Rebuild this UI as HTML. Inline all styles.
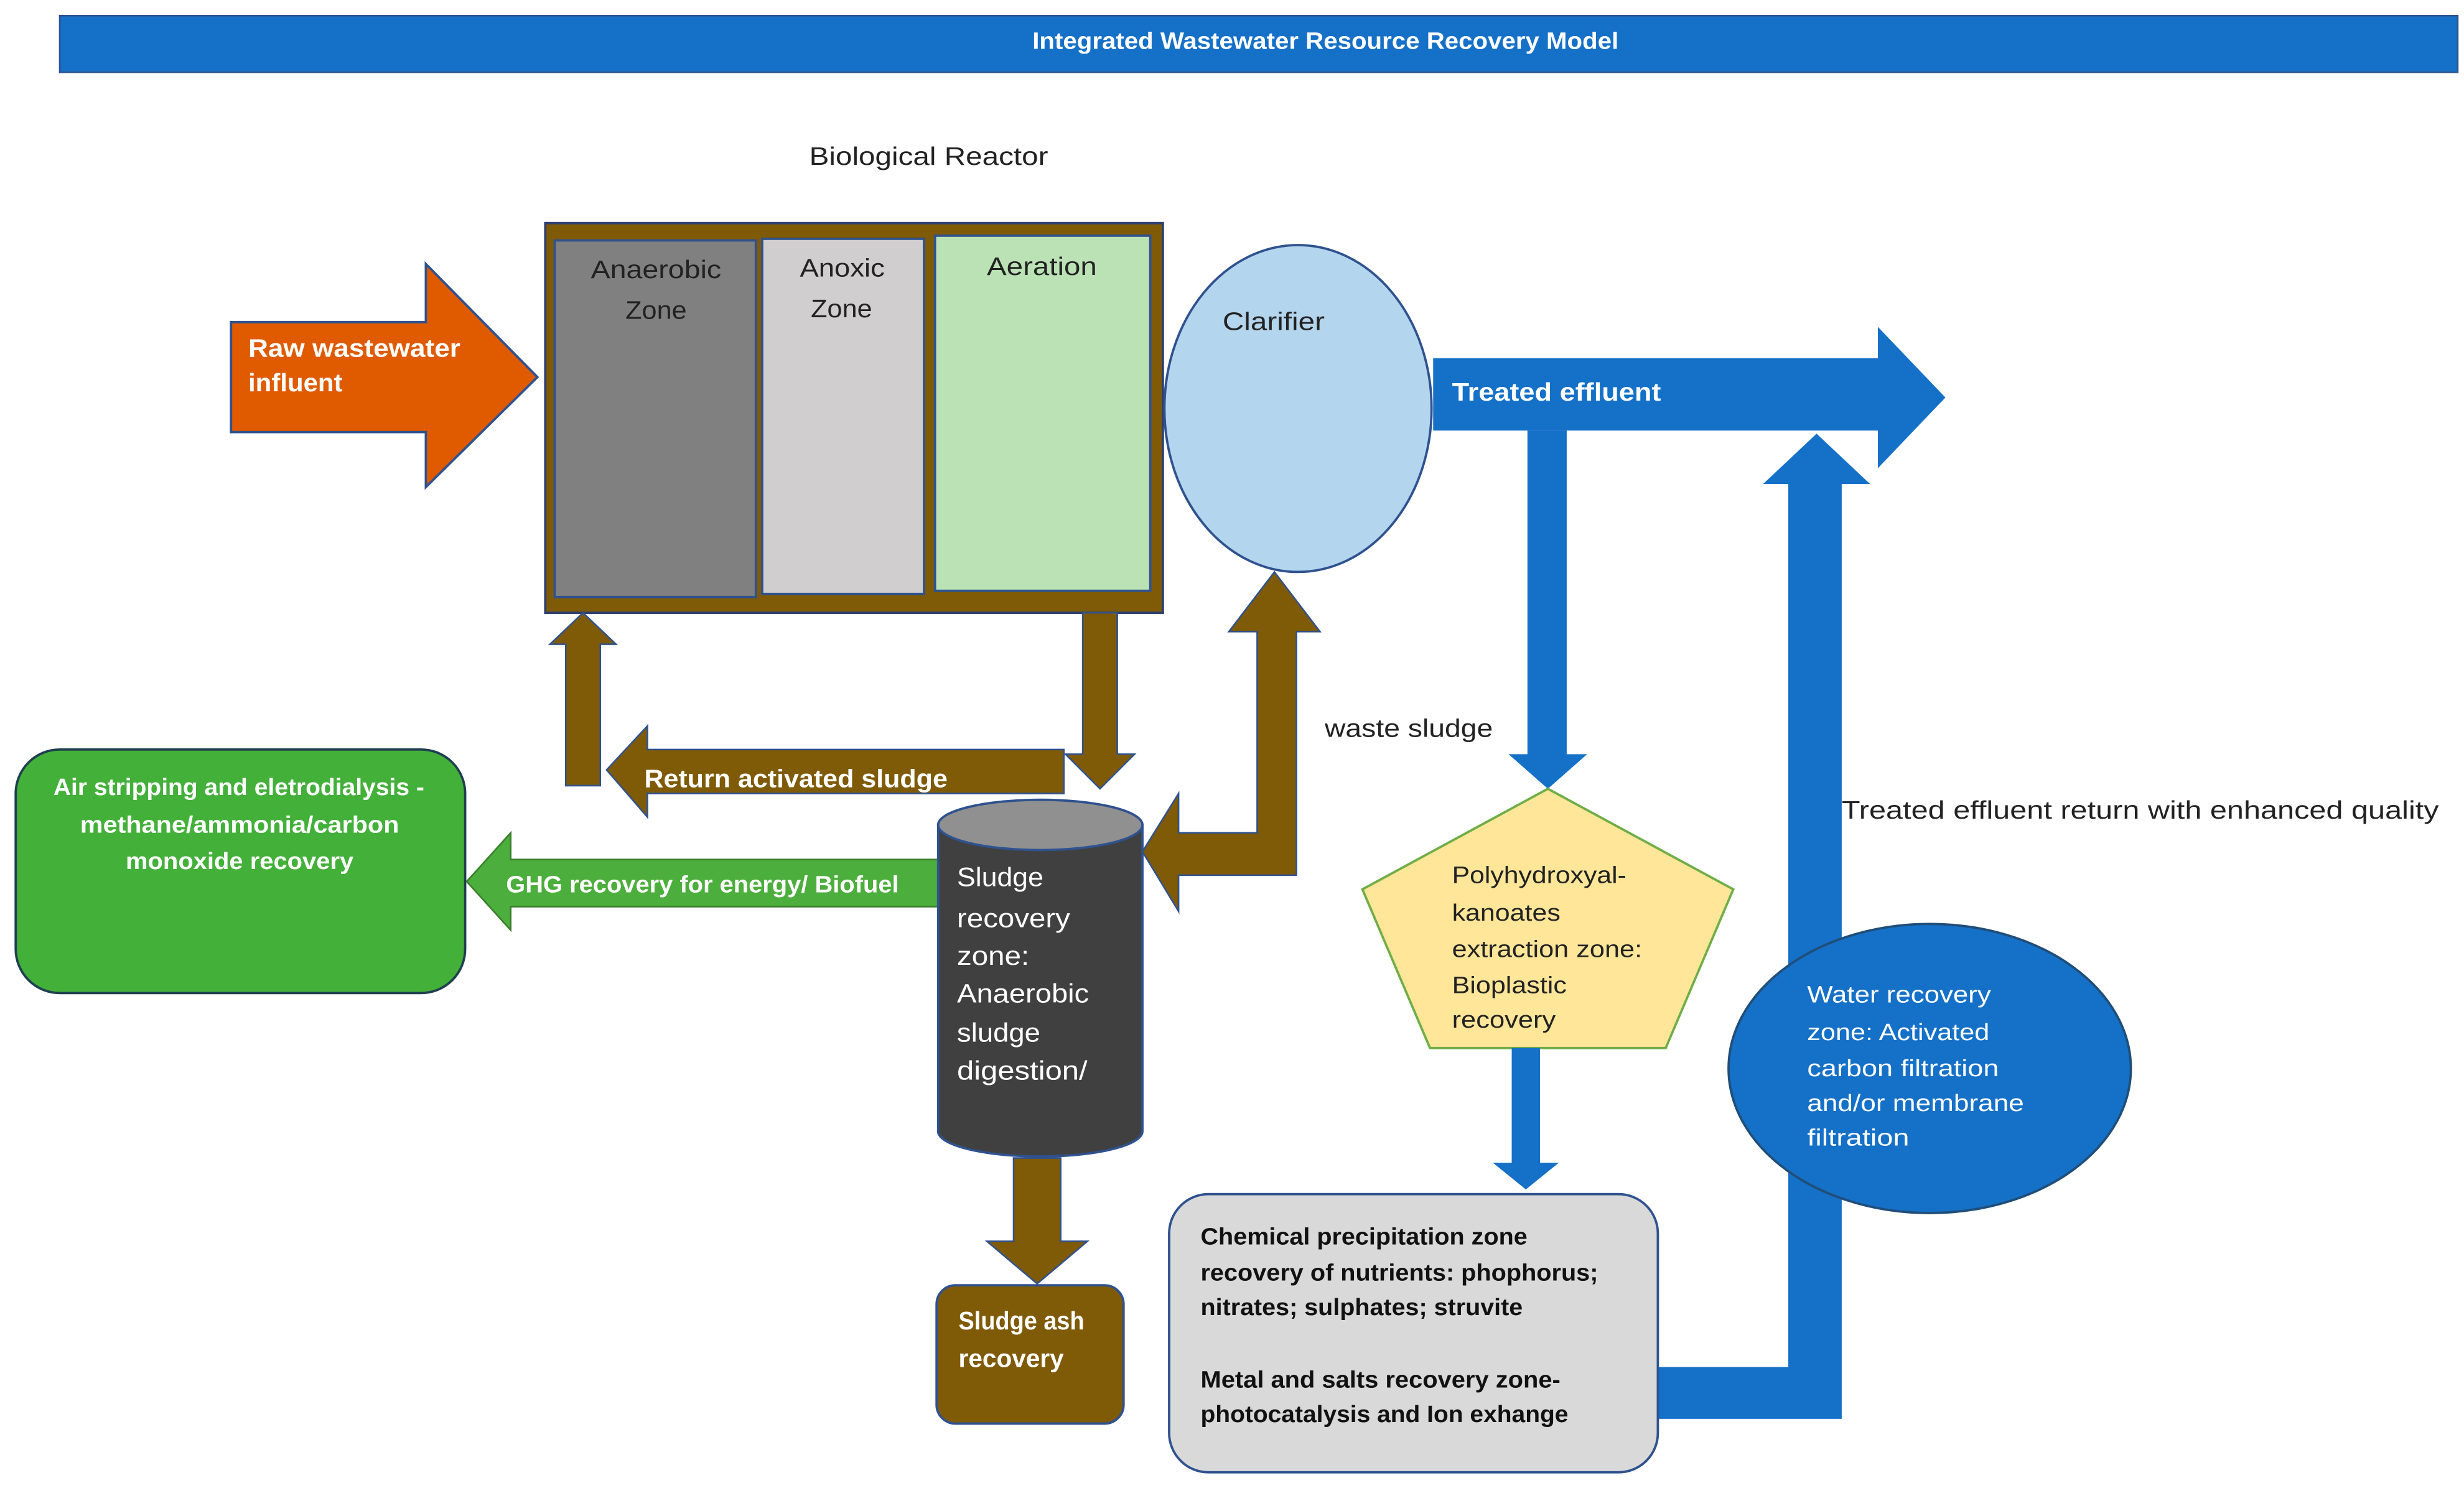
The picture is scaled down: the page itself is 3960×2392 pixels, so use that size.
<!DOCTYPE html>
<html><head><meta charset="utf-8">
<style>
html,body{margin:0;padding:0;background:#fff;}
svg{display:block;}
text{font-family:"Liberation Sans",sans-serif;}
</style></head>
<body>
<svg width="3960" height="2392" viewBox="0 0 1568 947" preserveAspectRatio="none" xmlns="http://www.w3.org/2000/svg">
<rect x="0" y="0" width="1568" height="947" fill="#fff"/>
<rect x="38" y="10" width="1526" height="36" fill="#1570c8" stroke="#2f528f" stroke-width="1"/>
<text x="657" y="31" font-size="15" font-weight="bold" fill="#fff" textLength="373" lengthAdjust="spacingAndGlyphs">Integrated Wastewater Resource Recovery Model</text>
<text x="515" y="105" font-size="16" fill="#222" textLength="152" lengthAdjust="spacingAndGlyphs">Biological Reactor</text>

<rect x="347" y="142" width="393" height="248" fill="#7f5a07" stroke="#2f3f6f" stroke-width="1.5"/>
<rect x="353" y="153" width="128" height="227" fill="#808080" stroke="#2f528f" stroke-width="1.5"/>
<rect x="485" y="152" width="103" height="226" fill="#d0cece" stroke="#2f528f" stroke-width="1.5"/>
<rect x="595" y="150" width="137" height="226" fill="#bbe2b5" stroke="#2f528f" stroke-width="1.5"/>
<g font-size="16" fill="#222">
<text x="376" y="177" textLength="83" lengthAdjust="spacingAndGlyphs">Anaerobic</text>
<text x="398" y="203" textLength="39" lengthAdjust="spacingAndGlyphs">Zone</text>
<text x="509" y="176" textLength="54" lengthAdjust="spacingAndGlyphs">Anoxic</text>
<text x="516" y="202" textLength="39" lengthAdjust="spacingAndGlyphs">Zone</text>
<text x="628" y="175" textLength="70" lengthAdjust="spacingAndGlyphs">Aeration</text>
</g>

<ellipse cx="826" cy="260" rx="85" ry="104" fill="#b4d5ee" stroke="#2f528f" stroke-width="1.5"/>
<text x="778" y="210" font-size="16" fill="#222" textLength="65" lengthAdjust="spacingAndGlyphs">Clarifier</text>

<polygon points="147,205 271,205 271,168 342,240 271,310 271,275 147,275" fill="#e05a00" stroke="#2f528f" stroke-width="1.5"/>
<text x="158" y="227" font-size="16" font-weight="bold" fill="#fff" textLength="135" lengthAdjust="spacingAndGlyphs">Raw wastewater</text>
<text x="158" y="249" font-size="16" font-weight="bold" fill="#fff" textLength="60" lengthAdjust="spacingAndGlyphs">influent</text>

<polygon points="912,228 1195,228 1195,208 1238,253 1195,298 1195,274 912,274" fill="#1570c8"/>
<text x="924" y="255" font-size="16" font-weight="bold" fill="#fff" textLength="133" lengthAdjust="spacingAndGlyphs">Treated effluent</text>

<polygon points="972,274 997,274 997,480 1010,480 985,502 960,480 972,480" fill="#1570c8"/>
<polygon points="1055,870 1138,870 1138,308 1122,308 1156,276 1190,308 1172,308 1172,903 1055,903" fill="#1570c8"/>
<text x="1172" y="521" font-size="16" fill="#222" textLength="380" lengthAdjust="spacingAndGlyphs">Treated effluent return with enhanced quality</text>
<text x="843" y="469" font-size="16" fill="#222" textLength="107" lengthAdjust="spacingAndGlyphs">waste sludge</text>

<polygon points="985,502 1103,566 1060,667 910,667 867,566" fill="#ffe699" stroke="#70ad47" stroke-width="1.5"/>
<g font-size="15" fill="#222">
<text x="924" y="562" textLength="111" lengthAdjust="spacingAndGlyphs">Polyhydroxyal-</text>
<text x="924" y="586" textLength="69" lengthAdjust="spacingAndGlyphs">kanoates</text>
<text x="924" y="609" textLength="121" lengthAdjust="spacingAndGlyphs">extraction zone:</text>
<text x="924" y="632" textLength="73" lengthAdjust="spacingAndGlyphs">Bioplastic</text>
<text x="924" y="654" textLength="66" lengthAdjust="spacingAndGlyphs">recovery</text>
</g>
<polygon points="962,667 980,667 980,740 992,740 971,757 950,740 962,740" fill="#1570c8"/>

<rect x="744" y="760" width="311" height="177" rx="25" fill="#d9d9d9" stroke="#2f528f" stroke-width="1.5"/>
<g font-size="15" font-weight="bold" fill="#111">
<text x="764" y="792" textLength="208" lengthAdjust="spacingAndGlyphs">Chemical precipitation zone</text>
<text x="764" y="815" textLength="253" lengthAdjust="spacingAndGlyphs">recovery of nutrients: phophorus;</text>
<text x="764" y="837" textLength="205" lengthAdjust="spacingAndGlyphs">nitrates; sulphates; struvite</text>
<text x="764" y="883" textLength="229" lengthAdjust="spacingAndGlyphs">Metal and salts recovery zone-</text>
<text x="764" y="905" textLength="234" lengthAdjust="spacingAndGlyphs">photocatalysis and Ion exhange</text>
</g>

<ellipse cx="1228" cy="680" rx="128" ry="92" fill="#1570c8" stroke="#1f4e79" stroke-width="1.5"/>
<g font-size="15" fill="#fff">
<text x="1150" y="638" textLength="117" lengthAdjust="spacingAndGlyphs">Water recovery</text>
<text x="1150" y="662" textLength="116" lengthAdjust="spacingAndGlyphs">zone: Activated</text>
<text x="1150" y="685" textLength="122" lengthAdjust="spacingAndGlyphs">carbon filtration</text>
<text x="1150" y="707" textLength="138" lengthAdjust="spacingAndGlyphs">and/or membrane</text>
<text x="1150" y="729" textLength="65" lengthAdjust="spacingAndGlyphs">filtration</text>
</g>

<polygon points="360,500 360,410 350,410 371,390 392,410 382,410 382,500" fill="#7f5a07" stroke="#2f528f" stroke-width="1"/>
<polygon points="677,477 412,477 412,462 386,490 412,520 412,505 677,505" fill="#7f5a07" stroke="#2f528f" stroke-width="1"/>
<text x="410" y="501" font-size="16" font-weight="bold" fill="#fff" textLength="193" lengthAdjust="spacingAndGlyphs">Return activated sludge</text>
<polygon points="689,390 711,390 711,480 722,480 700,502 678,480 689,480" fill="#7f5a07" stroke="#2f528f" stroke-width="1"/>
<polygon points="800,402 782,402 811,364 840,402 825,402 825,557 750,557 750,580 727,542 750,505 750,530 800,530" fill="#7f5a07" stroke="#2f528f" stroke-width="1"/>

<polygon points="597,547 325,547 325,530 297,561 325,592 325,577 597,577" fill="#4cae3c" stroke="#3a7d2c" stroke-width="1"/>
<text x="322" y="568" font-size="15" font-weight="bold" fill="#fff" textLength="250" lengthAdjust="spacingAndGlyphs">GHG recovery for energy/ Biofuel</text>
<rect x="10" y="477" width="286" height="155" rx="28" fill="#43b03a" stroke="#1f3f4f" stroke-width="1.5"/>
<g font-size="15" font-weight="bold" fill="#fff">
<text x="34" y="506" textLength="236" lengthAdjust="spacingAndGlyphs">Air stripping and eletrodialysis -</text>
<text x="51" y="530" textLength="203" lengthAdjust="spacingAndGlyphs">methane/ammonia/carbon</text>
<text x="80" y="553" textLength="145" lengthAdjust="spacingAndGlyphs">monoxide recovery</text>
</g>

<path d="M597,525 L597,720 A65,16 0 0 0 727,720 L727,525 Z" fill="#404040" stroke="#2f528f" stroke-width="1.5"/>
<ellipse cx="662" cy="525" rx="65" ry="16" fill="#909090" stroke="#2f528f" stroke-width="1.5"/>
<g font-size="17" fill="#fff">
<text x="609" y="564" textLength="55" lengthAdjust="spacingAndGlyphs">Sludge</text>
<text x="609" y="590" textLength="72" lengthAdjust="spacingAndGlyphs">recovery</text>
<text x="609" y="614" textLength="46" lengthAdjust="spacingAndGlyphs">zone:</text>
<text x="609" y="638" textLength="84" lengthAdjust="spacingAndGlyphs">Anaerobic</text>
<text x="609" y="663" textLength="53" lengthAdjust="spacingAndGlyphs">sludge</text>
<text x="609" y="687" textLength="83" lengthAdjust="spacingAndGlyphs">digestion/</text>
</g>

<polygon points="645,737 675,737 675,790 692,790 660,817 628,790 645,790" fill="#7f5a07" stroke="#2f528f" stroke-width="1"/>
<rect x="596" y="818" width="119" height="88" rx="12" fill="#7f5a07" stroke="#2f528f" stroke-width="1.5"/>
<text x="610" y="846" font-size="16" font-weight="bold" fill="#fff" textLength="80" lengthAdjust="spacingAndGlyphs">Sludge ash</text>
<text x="610" y="870" font-size="16" font-weight="bold" fill="#fff" textLength="67" lengthAdjust="spacingAndGlyphs">recovery</text>
</svg>
</body></html>
